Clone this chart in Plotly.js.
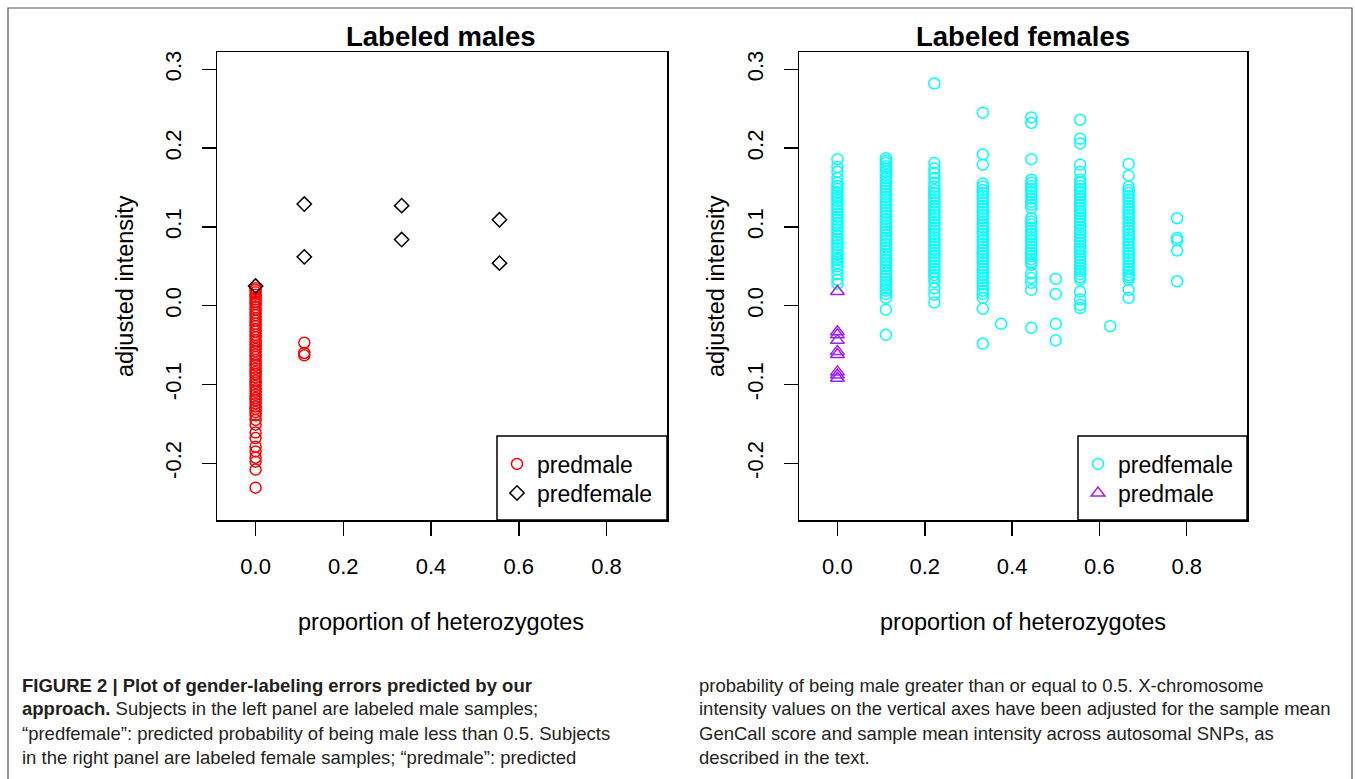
<!DOCTYPE html>
<html>
<head>
<meta charset="utf-8">
<script src="https://cdn.plot.ly/plotly-3.0.1.min.js"></script>
<style>
html,body{margin:0;padding:0;background:#fff;}
#chart{width:1355px;height:779px;}
</style>
</head>
<body>
<div id="chart"></div>
<script>
// ---------- data ----------
// Left panel: labeled males
const malePredMaleX0Y = [0.022, 0.020, 0.017, 0.014, 0.011, 0.008, 0.005, 0.002, -0.002, -0.005, -0.009, -0.012, -0.016, -0.019, -0.023, -0.026, -0.030, -0.033, -0.037, -0.040, -0.044, -0.047, -0.051, -0.055, -0.058, -0.062, -0.065, -0.069, -0.073, -0.076, -0.080, -0.084, -0.087, -0.091, -0.095, -0.098, -0.102, -0.106, -0.109, -0.113, -0.117, -0.120, -0.124, -0.128, -0.131, -0.135, -0.139, -0.145, -0.151, -0.161, -0.168, -0.179, -0.185, -0.193, -0.198, -0.208, -0.231];
const malePredMaleX1Y = [-0.047, -0.060, -0.063];
const malePredMaleColX = [0, 0.111];
const malePredFemaleX = [0, 0.111, 0.111, 0.333, 0.333, 0.556, 0.556];
const malePredFemaleY = [0.025, 0.129, 0.062, 0.127, 0.084, 0.109, 0.054];

// Right panel: labeled females
const femCol0 = [0.186, 0.176, 0.170, 0.162, 0.156, 0.152, 0.148, 0.144, 0.140, 0.137, 0.133, 0.129, 0.125, 0.121, 0.117, 0.113, 0.109, 0.105, 0.101, 0.097, 0.093, 0.089, 0.085, 0.081, 0.077, 0.073, 0.069, 0.065, 0.061, 0.058, 0.054, 0.050, 0.046, 0.040, 0.033, 0.028];
const femCol1 = [0.187, 0.184, 0.181, 0.177, 0.174, 0.170, 0.166, 0.162, 0.158, 0.154, 0.150, 0.146, 0.142, 0.138, 0.134, 0.130, 0.126, 0.122, 0.118, 0.114, 0.110, 0.106, 0.102, 0.098, 0.094, 0.090, 0.086, 0.082, 0.078, 0.074, 0.070, 0.066, 0.062, 0.058, 0.054, 0.050, 0.046, 0.042, 0.038, 0.034, 0.030, 0.026, 0.022, 0.019, 0.015, 0.010, -0.005, -0.037];
const femCol2 = [0.282, 0.181, 0.174, 0.168, 0.162, 0.156, 0.151, 0.147, 0.143, 0.139, 0.135, 0.131, 0.127, 0.123, 0.119, 0.115, 0.111, 0.107, 0.103, 0.099, 0.095, 0.091, 0.087, 0.083, 0.079, 0.075, 0.071, 0.067, 0.063, 0.059, 0.055, 0.051, 0.047, 0.043, 0.039, 0.035, 0.030, 0.022, 0.014, 0.004];
const femCol3 = [0.245, 0.192, 0.179, 0.155, 0.151, 0.147, 0.143, 0.139, 0.135, 0.131, 0.127, 0.123, 0.119, 0.115, 0.111, 0.107, 0.103, 0.099, 0.095, 0.091, 0.087, 0.083, 0.079, 0.075, 0.071, 0.067, 0.063, 0.059, 0.055, 0.051, 0.047, 0.043, 0.039, 0.035, 0.031, 0.027, 0.023, 0.019, 0.015, 0.010, -0.004, -0.048];
const femCol375 = [-0.023];
const femCol4 = [0.239, 0.232, 0.186, 0.160, 0.156, 0.152, 0.148, 0.144, 0.140, 0.136, 0.132, 0.128, 0.124, 0.111, 0.107, 0.103, 0.099, 0.095, 0.091, 0.087, 0.083, 0.079, 0.075, 0.071, 0.067, 0.063, 0.059, 0.055, 0.052, 0.041, 0.035, 0.029, 0.020, -0.028];
const femCol500 = [0.034, 0.015, -0.023, -0.044];
const femCol5 = [0.236, 0.212, 0.206, 0.179, 0.170, 0.160, 0.156, 0.152, 0.148, 0.144, 0.140, 0.136, 0.132, 0.128, 0.124, 0.120, 0.116, 0.112, 0.108, 0.104, 0.100, 0.096, 0.092, 0.088, 0.084, 0.080, 0.076, 0.072, 0.068, 0.064, 0.060, 0.056, 0.052, 0.048, 0.044, 0.040, 0.036, 0.033, 0.018, 0.008, 0.001, -0.003];
const femCol625 = [-0.026];
const femCol6 = [0.180, 0.165, 0.151, 0.147, 0.143, 0.139, 0.135, 0.131, 0.127, 0.123, 0.119, 0.115, 0.111, 0.107, 0.103, 0.099, 0.095, 0.091, 0.087, 0.083, 0.079, 0.075, 0.071, 0.067, 0.063, 0.059, 0.055, 0.051, 0.047, 0.043, 0.039, 0.036, 0.033, 0.020, 0.010];
const femCol7 = [0.111, 0.086, 0.083, 0.070, 0.031];
const femPredFemaleColX = [0, 0.111, 0.222, 0.333, 0.375, 0.444, 0.5, 0.556, 0.625, 0.667, 0.778];
const femPredFemaleColY = [femCol0, femCol1, femCol2, femCol3, femCol375, femCol4, femCol500, femCol5, femCol625, femCol6, femCol7];
const femPredMaleX = [0, 0, 0, 0, 0, 0, 0, 0, 0];
const femPredMaleY = [0.018, -0.033, -0.037, -0.044, -0.058, -0.062, -0.084, -0.088, -0.092];

// ticks
const xTickVals = [0, 0.2, 0.4, 0.6, 0.8];
const xTickText = ['0.0', '0.2', '0.4', '0.6', '0.8'];
const yTickVals = [-0.2, -0.1, 0, 0.1, 0.2, 0.3];
const yTickText = ['-0.2', '-0.1', '0.0', '0.1', '0.2', '0.3'];

const panelTitles = ['Labeled males', 'Labeled females'];
const xTitle = 'proportion of heterozygotes';
const yTitle = 'adjusted intensity';
const captionLeft = [
  '<b>FIGURE 2 | Plot of gender-labeling errors predicted by our</b>',
  '<b>approach.</b> Subjects in the left panel are labeled male samples;',
  '\u201Cpredfemale\u201D: predicted probability of being male less than 0.5. Subjects',
  'in the right panel are labeled female samples; \u201Cpredmale\u201D: predicted'
];
const captionRight = [
  'probability of being male greater than or equal to 0.5. X-chromosome',
  'intensity values on the vertical axes have been adjusted for the sample mean',
  'GenCall score and sample mean intensity across autosomal SNPs, as',
  'described in the text.'
];

// ---------- build ----------
function expand(colX, colY) {
  const xs = [], ys = [];
  colY.forEach((arr, i) => arr.forEach(v => { xs.push(colX[i]); ys.push(v); }));
  return {x: xs, y: ys};
}
const lm = expand(malePredMaleColX, [malePredMaleX0Y, malePredMaleX1Y]);
const rf = expand(femPredFemaleColX, femPredFemaleColY);

const W = 1355, H = 779;
const px = v => v / W;
const py = v => 1 - v / H;
const FONT = 'Liberation Sans, Arial, Helvetica, sans-serif';

const traces = [
  {type: 'scatter', mode: 'markers', name: 'predmale', x: lm.x, y: lm.y, xaxis: 'x', yaxis: 'y', legend: 'legend',
   marker: {symbol: 'circle-open', size: 11, color: '#ff0000', line: {width: 1.5, color: '#ff0000'}}},
  {type: 'scatter', mode: 'markers', name: 'predfemale', x: malePredFemaleX, y: malePredFemaleY, xaxis: 'x', yaxis: 'y', legend: 'legend2',
   marker: {symbol: 'diamond-open', size: 11, color: '#000000', line: {width: 1.5, color: '#000000'}}},
  {type: 'scatter', mode: 'markers', name: 'predfemale', x: rf.x, y: rf.y, xaxis: 'x2', yaxis: 'y2', legend: 'legend3',
   marker: {symbol: 'circle-open', size: 11, color: '#00ffff', line: {width: 1.5, color: '#00ffff'}}},
  {type: 'scatter', mode: 'markers', name: 'predmale', x: femPredMaleX, y: femPredMaleY, xaxis: 'x2', yaxis: 'y2', legend: 'legend4',
   marker: {symbol: 'triangle-up-open', size: 12, color: '#a020f0', line: {width: 1.5, color: '#a020f0'}}}
];

const xAxisBase = {
  range: [-0.088, 0.938], tickvals: xTickVals, ticktext: xTickText,
  showline: true, mirror: true, linecolor: '#000', linewidth: 1.5,
  ticks: 'outside', ticklen: 14, tickwidth: 1.5, tickcolor: '#000',
  showgrid: false, zeroline: false, ticklabelstandoff: 12,
  tickfont: {family: FONT, size: 22, color: '#000'}, fixedrange: true
};
const yAxisBase = {
  range: [-0.272, 0.322], tickvals: yTickVals, ticktext: yTickText, tickangle: -90,
  showline: true, mirror: true, linecolor: '#000', linewidth: 1.5,
  ticks: 'outside', ticklen: 14, tickwidth: 1.5, tickcolor: '#000',
  showgrid: false, zeroline: false, ticklabelstandoff: 12,
  tickfont: {family: FONT, size: 22, color: '#000'}, fixedrange: true,
  domain: [py(520), py(52)]
};

const legendBase = {
  font: {family: FONT, size: 23, color: '#000'}, bgcolor: 'rgba(0,0,0,0)', borderwidth: 0,
  xanchor: 'left', yanchor: 'middle', orientation: 'v'
};

const annotations = [];
const centersX = [441, 1023];
const yTitleX = [125, 716];
for (let i = 0; i < 2; i++) {
  annotations.push({xref: 'paper', yref: 'paper', x: px(centersX[i]), y: py(37), text: '<b>' + panelTitles[i] + '</b>',
    showarrow: false, xanchor: 'center', yanchor: 'middle', font: {family: FONT, size: 27.5, color: '#000'}});
  annotations.push({xref: 'paper', yref: 'paper', x: px(centersX[i]), y: py(622), text: xTitle,
    showarrow: false, xanchor: 'center', yanchor: 'middle', font: {family: FONT, size: 23.5, color: '#000'}});
  annotations.push({xref: 'paper', yref: 'paper', x: px(yTitleX[i]), y: py(286), text: yTitle, textangle: -90,
    showarrow: false, xanchor: 'center', yanchor: 'middle', font: {family: FONT, size: 23.5, color: '#000'}});
}
const capY = [685, 708, 733, 757];
captionLeft.forEach((t, i) => annotations.push({xref: 'paper', yref: 'paper', x: px(20), y: py(capY[i]), text: t,
  showarrow: false, xanchor: 'left', yanchor: 'middle', font: {family: FONT, size: 18.5, color: '#231f20'}}));
captionRight.forEach((t, i) => annotations.push({xref: 'paper', yref: 'paper', x: px(697), y: py(capY[i]), text: t,
  showarrow: false, xanchor: 'left', yanchor: 'middle', font: {family: FONT, size: 18.5, color: '#231f20'}}));

const layout = {
  width: W, height: H, margin: {l: 0, r: 0, t: 0, b: 0},
  paper_bgcolor: '#fff', plot_bgcolor: 'rgba(0,0,0,0)',
  showlegend: true,
  xaxis: Object.assign({}, xAxisBase, {domain: [px(217), px(667)], anchor: 'y'}),
  yaxis: Object.assign({}, yAxisBase, {anchor: 'x'}),
  xaxis2: Object.assign({}, xAxisBase, {domain: [px(799), px(1247)], anchor: 'y2'}),
  yaxis2: Object.assign({}, yAxisBase, {anchor: 'x2'}),
  legend: Object.assign({}, legendBase, {x: px(497), y: py(464)}),
  legend2: Object.assign({}, legendBase, {x: px(497), y: py(493)}),
  legend3: Object.assign({}, legendBase, {x: px(1078), y: py(464)}),
  legend4: Object.assign({}, legendBase, {x: px(1078), y: py(493)}),
  shapes: [
    {type: 'rect', xref: 'paper', yref: 'paper', x0: px(8), x1: px(1352), y0: -0.02, y1: py(8),
     line: {color: '#555', width: 1.2}, fillcolor: 'rgba(0,0,0,0)', layer: 'below'},
    {type: 'rect', xref: 'paper', yref: 'paper', x0: px(497), x1: px(667), y0: py(520), y1: py(436),
     line: {color: '#000', width: 1.5}, fillcolor: '#fff', layer: 'below'},
    {type: 'rect', xref: 'paper', yref: 'paper', x0: px(1078), x1: px(1247), y0: py(520), y1: py(436),
     line: {color: '#000', width: 1.5}, fillcolor: '#fff', layer: 'below'}
  ],
  annotations: annotations,
  hovermode: false
};

Plotly.newPlot('chart', traces, layout, {displayModeBar: false, staticPlot: true});
</script>
</body>
</html>
